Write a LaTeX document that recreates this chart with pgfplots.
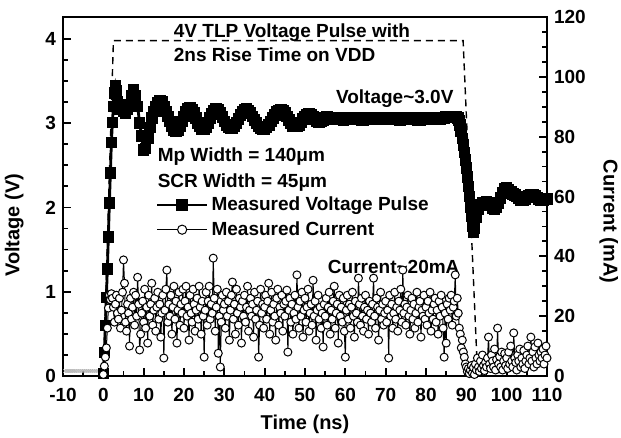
\documentclass[border=0pt]{standalone}
\usepackage{pgfplots}
\pgfplotsset{compat=1.18}
\usepackage{fontspec}
\setmainfont{Liberation Sans}
\begin{document}
\begin{tikzpicture}[font=\bfseries]
\pgfplotsset{
 common/.style={scale only axis, width=242pt, height=179.5pt, xmin=-10, xmax=110,
  tick align=inside, major tick length=4pt, minor tick length=2.5pt,
  every tick/.style={line width=0.9pt, black},
  /pgf/number format/assume math mode=true,
  tick label style={font=\fontsize{9.5}{11}\selectfont\bfseries},
  label style={font=\fontsize{10}{12}\selectfont\bfseries},
  axis line style={line width=1.3pt},
 },
 volt/.style={black, line width=1.4pt, mark=square*, mark size=2.2pt},
 curr/.style={black, line width=0.5pt, mark=*, mark size=2pt, mark options={fill=white, draw=black, line width=0.5pt}},
}
\begin{axis}[common, ymin=0, ymax=4.26, ytick={0,1,2,3,4}, minor y tick num=3,
  xtick={-10,0,...,110}, minor x tick num=1, xtick pos=bottom, ytick pos=left,
  x tick label style={yshift=-2.5pt},
  xlabel={Time (ns)}, ylabel={Voltage (V)},
  ylabel style={at={(ticklabel cs:0.42,4pt)}},
  legend style={draw=none, fill=none, at={(axis cs:12.9,2.17)}, anchor=north west, inner sep=0pt, row sep=1pt,
    font=\fontsize{9.5}{11}\selectfont\bfseries, nodes={inner sep=1.5pt}},
  legend cell align=left,
  legend image code/.code={\draw[mark repeat=2,mark phase=2] plot coordinates {(0pt,0pt)(12.5pt,0pt)(25pt,0pt)};},
]
\addplot[forget plot, black, line width=0.7pt, dash pattern=on 3.5pt off 2.5pt] coordinates {(0,0)(2.5,3.98)(89.2,3.98)(92.8,0)};
\addplot[forget plot, gray!60, only marks, mark=x, mark size=1.2pt, mark options={line width=0.3pt}] coordinates {
(-9.5,0.06)(-9,0.06)(-8.5,0.06)(-8,0.06)(-7.5,0.06)(-7,0.06)(-6.5,0.06)(-6,0.06)(-5.5,0.06)(-5,0.06)(-4.5,0.06)(-4,0.06)(-3.5,0.06)(-3,0.06)(-2.5,0.06)(-2,0.06)(-1.5,0.06)(-1,0.06)(-0.5,0.06)};
\addplot[volt] coordinates {
(0,0.03)(0.25,0.28)(0.5,0.6)(0.75,0.93)(1,1.27)(1.25,1.65)(1.5,2.05)(1.75,2.41)(2,2.77)(2.25,3.01)(2.5,3.2)(2.75,3.36)(3,3.44)(3.25,3.38)(3.5,3.25)(3.75,3.17)
(4,3.2)(4.5,3.22)(5,3.14)(5.5,3.12)(6,3.16)(6.5,3.2)(7,3.32)(7.5,3.4)(8,3.32)(8.5,3.2)(9,3.0)(9.5,2.85)(10,2.68)(10.5,2.7)(11,2.82)(11.5,2.95)
(12,3.06)(12.5,3.14)(13,3.2)(13.5,3.24)(14,3.26)(14.5,3.25)(15,3.2)(15.5,3.14)(16,3.08)(16.5,3.02)(17,2.96)(17.5,2.92)(18,2.9)(18.5,2.92)(19,2.96)(19.5,3.02)
(20,3.08)(20.5,3.13)(21,3.17)(21.5,3.18)(22,3.16)(22.5,3.12)(23,3.06)(23.5,3.0)(24,2.96)(24.5,2.93)(25,2.93)(25.5,2.95)(26,3.0)(26.5,3.06)(27,3.11)(27.5,3.15)
(28,3.17)(28.5,3.16)(29,3.12)(29.5,3.07)(30,3.02)(30.5,2.98)(31,2.95)(31.5,2.94)(32,2.94)(32.5,2.96)(33,3.0)(33.5,3.05)(34,3.1)(34.5,3.14)(35,3.16)(35.5,3.17)
(36,3.15)(36.5,3.12)(37,3.08)(37.5,3.04)(38,3.0)(38.5,2.96)(39,2.94)(39.5,2.93)(40,2.93)(40.5,2.95)(41,2.98)(41.5,3.02)(42,3.06)(42.5,3.1)(43,3.13)(43.5,3.15)
(44,3.16)(44.5,3.15)(45,3.12)(45.5,3.08)(46,3.04)(46.5,3.0)(47,2.97)(47.5,2.96)(48,2.96)(48.5,2.98)(49,3.01)(49.5,3.05)(50,3.08)(50.5,3.1)(51,3.11)(51.5,3.1)
(52,3.08)(52.5,3.05)(53,3.02)(53.5,3.01)(54,3.02)(54.5,3.04)(55,3.06)(55.5,3.07)(56,3.06)(56.5,3.05)(57,3.05)(57.5,3.06)(58,3.06)(58.5,3.05)(59,3.05)(59.5,3.04)
(60,3.05)(60.5,3.06)(61,3.06)(61.5,3.05)(62,3.05)(62.5,3.06)(63,3.06)(63.5,3.05)(64,3.04)(64.5,3.04)(65,3.05)(65.5,3.06)(66,3.06)(66.5,3.05)(67,3.05)(67.5,3.05)
(68,3.06)(68.5,3.06)(69,3.05)(69.5,3.05)(70,3.06)(70.5,3.06)(71,3.05)(71.5,3.05)(72,3.06)(72.5,3.06)(73,3.05)(73.5,3.04)(74,3.05)(74.5,3.06)(75,3.06)(75.5,3.05)
(76,3.05)(76.5,3.05)(77,3.06)(77.5,3.05)(78,3.04)(78.5,3.04)(79,3.05)(79.5,3.06)(80,3.06)(80.5,3.05)(81,3.05)(81.5,3.05)(82,3.06)(82.5,3.06)(83,3.05)(83.5,3.05)
(84,3.06)(84.5,3.06)(85,3.07)(85.5,3.07)(86,3.07)(86.5,3.08)(87,3.08)(87.5,3.07)(88,3.06)(88.25,3.03)(88.5,2.98)(88.75,2.9)(89,2.82)(89.25,2.74)(89.5,2.65)(89.75,2.56)
(90,2.47)(90.25,2.36)(90.5,2.25)(90.75,2.13)(91,2.0)(91.25,1.9)(91.5,1.78)(91.75,1.71)(92,1.75)(92.5,1.88)(93,1.98)(93.5,2.03)(94,2.05)(94.5,2.06)(95,2.07)(95.5,2.06)
(96,2.03)(96.5,1.99)(97,1.98)(97.5,2.0)(98,2.05)(98.5,2.11)(99,2.17)(99.5,2.22)(100,2.23)(100.5,2.21)(101,2.18)(101.5,2.16)(102,2.15)(102.5,2.13)(103,2.11)(103.5,2.09)
(104,2.09)(104.5,2.1)(105,2.12)(105.5,2.14)(106,2.15)(106.5,2.15)(107,2.14)(107.5,2.12)(108,2.1)(108.5,2.09)(109,2.09)(109.5,2.1)(110,2.1)};
\addlegendentry{Measured Voltage Pulse}
\addlegendimage{curr, mark size=2.3pt}
\addlegendentry{Measured Current}
\node[anchor=west, inner sep=0pt, font=\fontsize{9.5}{11}\selectfont\bfseries] at (axis cs:17.4,4.08) {4V TLP Voltage Pulse with};
\node[anchor=west, inner sep=0pt, font=\fontsize{9.5}{11}\selectfont\bfseries] at (axis cs:17.4,3.81) {2ns Rise Time on VDD};
\node[anchor=west, inner sep=0pt, font=\fontsize{9.5}{11}\selectfont\bfseries] at (axis cs:57.6,3.29) {Voltage\textasciitilde3.0V};
\node[anchor=west, inner sep=0pt, font=\fontsize{9.5}{11}\selectfont\bfseries] at (axis cs:13.4,2.6) {Mp Width = 140μm};
\node[anchor=west, inner sep=0pt, font=\fontsize{9.5}{11}\selectfont\bfseries] at (axis cs:13.4,2.3) {SCR Width = 45μm};
\node[anchor=west, inner sep=0pt, font=\fontsize{9.5}{11}\selectfont\bfseries] at (axis cs:55.6,1.29) {Current\textasciitilde20mA};
\end{axis}
\begin{axis}[common, ymin=0, ymax=120, ytick={0,20,...,120}, minor y tick num=3,
  axis y line*=right, axis x line=none, ylabel={Current (mA)},
  ylabel style={rotate=180, at={(ticklabel cs:0.43,0pt)}}]
\addplot[curr] coordinates {
(0,0.5)(0.25,3.3)(0.5,6.3)(0.75,9.4)(1,16)(1.25,22.7)(1.5,27)(1.75,25.5)(2,27.5)(2.25,26)(2.5,23)(2.75,18)(3,24)(3.25,27)(3.5,21)(3.75,19)(4,26)(4.25,16)(4.5,22)(4.75,28)
(5,38.8)(5.25,31)(5.5,18)(5.75,15)(6,24)(6.25,21)(6.5,10)(6.75,26)(7,19)(7.25,23)(7.5,28)(7.75,17)(8,27)(8.25,20)(8.5,33)(8.75,24)(9,8.7)(9.25,14)(9.5,21)(9.75,25)
(10,18)(10.25,29)(10.5,16)(10.75,23)(11,11)(11.25,27)(11.5,20)(11.75,24)(12,31)(12.25,17)(12.5,22)(12.75,26)(13,15)(13.25,23)(13.5,28)(13.75,19)(14,24)(14.25,13)(14.5,21)(14.75,27)
(15,6)(15.25,22)(15.5,29)(15.75,35.4)(16,18)(16.25,24)(16.5,20)(16.75,27)(17,14)(17.25,23)(17.5,30)(17.75,19)(18,25)(18.25,11)(18.5,22)(18.75,28)(19,17)(19.25,24)(19.5,21)(19.75,29)
(20,16)(20.25,25)(20.5,30)(20.75,20)(21,23)(21.25,12)(21.5,27)(21.75,21)(22,18)(22.25,29)(22.5,24)(22.75,15)(23,22)(23.25,26)(23.5,19)(23.75,30)(24,23)(24.25,14)(24.5,25)(24.75,20)
(25,6.3)(25.25,22)(25.5,28)(25.75,17)(26,25)(26.25,30)(26.5,19)(26.75,24)(27,21)(27.25,39.4)(27.5,26)(27.75,15)(28,23)(28.25,29)(28.5,7.6)(28.75,20)(29,3)(29.25,18)(29.5,27)(29.75,22)
(30,24)(30.25,16)(30.5,28)(30.75,20)(31,25)(31.25,12)(31.5,22)(31.75,27)(32,31.4)(32.25,19)(32.5,24)(32.75,14)(33,29)(33.25,21)(33.5,17)(33.75,26)(34,23)(34.25,11)(34.5,25)(34.75,20)
(35,27)(35.25,18)(35.5,23)(35.75,30)(36,15)(36.25,22)(36.5,26)(36.75,20)(37,24)(37.25,13)(37.5,28)(37.75,19)(38,22)(38.25,25)(38.5,6.3)(38.75,17)(39,29)(39.25,21)(39.5,24)(39.75,16)
(40,23)(40.25,27)(40.5,19)(40.75,25)(41,31)(41.25,14)(41.5,22)(41.75,28)(42,18)(42.25,24)(42.5,20)(42.75,12)(43,26)(43.25,29)(43.5,17)(43.75,23)(44,21)(44.25,27)(44.5,15)(44.75,24)
(45,20)(45.25,25)(45.5,28.7)(45.75,8)(46,22)(46.25,26)(46.5,18)(46.75,24)(47,14)(47.25,21)(47.5,27)(47.75,19)(48,33.8)(48.25,23)(48.5,16)(48.75,25)(49,20)(49.25,28)(49.5,13)(49.75,22)
(50,26)(50.25,18)(50.5,23)(50.75,29)(51,15)(51.25,21)(51.5,24)(51.75,17)(52,32)(52.25,20)(52.5,25)(52.75,12)(53,22)(53.25,27)(53.5,19)(53.75,23)(54,16)(54.25,21)(54.5,9.7)(54.75,24)
(55,20)(55.25,26)(55.5,17)(55.75,23)(56,28)(56.25,14)(56.5,22)(56.75,19)(57,25)(57.25,30)(57.5,16)(57.75,21)(58,24)(58.25,11)(58.5,27)(58.75,20)(59,23)(59.25,18)(59.5,26)(59.75,15)
(60,6.3)(60.25,22)(60.5,27)(60.75,19)(61,24)(61.25,16)(61.5,23)(61.75,28)(62,20)(62.25,13)(62.5,25)(62.75,21)(63,18)(63.25,32.7)(63.5,24)(63.75,17)(64,26)(64.25,20)(64.5,15)(64.75,23)
(65,27)(65.25,19)(65.5,22)(65.75,14)(66,25)(66.25,21)(66.5,18)(66.75,24)(67,32.7)(67.25,20)(67.5,16)(67.75,26)(68,23)(68.25,12)(68.5,22)(68.75,28)(69,19)(69.25,24)(69.5,17)(69.75,21)
(70,25)(70.25,18)(70.5,22)(70.75,6)(71,27)(71.25,20)(71.5,24)(71.75,16)(72,21)(72.25,28)(72.5,19)(72.75,23)(73,15)(73.25,25)(73.5,22)(73.75,29)(74,18)(74.25,35.4)(74.5,21)(74.75,24)
(75,17)(75.25,23)(75.5,27)(75.75,20)(76,14)(76.25,22)(76.5,26)(76.75,19)(77,24)(77.25,16)(77.5,21)(77.75,28)(78,18)(78.25,23)(78.5,25)(78.75,13)(79,22)(79.25,20)(79.5,27)(79.75,19)
(80,23)(80.25,17)(80.5,25)(80.75,21)(81,28)(81.25,15)(81.5,22)(81.75,19)(82,24)(82.25,26)(82.5,18)(82.75,22)(83,14)(83.25,25)(83.5,20)(83.75,27)(84,23)(84.25,16)(84.5,6.3)(84.75,21)
(85,11)(85.25,24)(85.5,19)(85.75,26)(86,22)(86.25,27)(86.5,17)(86.75,23)(87,25)(87.25,33.8)(87.5,20)(87.75,26)(88,21)(88.25,16)(88.5,14)(88.75,9.4)(89,12)(89.25,8)(89.5,6.3)(89.75,4)
(90,3)(90.25,1.5)(90.5,2.5)(90.75,0.8)(91,2)(91.25,3.5)(91.5,1)(91.75,2.8)(92,0.5)(92.25,4)(92.5,2)(92.75,6)(93,3)(93.25,1.5)(93.5,5)(93.75,2.5)(94,7)(94.25,3.5)(94.5,1.8)(94.75,4.5)
(95,3)(95.25,6)(95.5,13)(95.75,4)(96,2.5)(96.25,7)(96.5,5)(96.75,3)(97,9)(97.25,2)(97.5,5.5)(97.75,16)(98,4)(98.25,6.5)(98.5,3)(98.75,8)(99,2)(99.25,5)(99.5,7.5)(99.75,3.5)
(100,6)(100.25,2.5)(100.5,8)(100.75,4)(101,10)(101.25,5)(101.5,3)(101.75,14.4)(102,6)(102.25,4.5)(102.5,2)(102.75,7)(103,5)(103.25,9)(103.5,3)(103.75,6)(104,4)(104.25,8.5)(104.5,2.5)(104.75,5)
(105,7)(105.25,10)(105.5,4)(105.75,6)(106,13)(106.25,5)(106.5,8)(106.75,3)(107,9.7)(107.25,6)(107.5,4)(107.75,11)(108,7)(108.25,5)(108.5,8)(108.75,6)(109,9)(109.25,4)(109.5,7)(109.75,10)(110,6)};
\end{axis}
\pgfresetboundingbox
\useasboundingbox (-31.5pt,-31pt) rectangle (279pt,188pt);
\end{tikzpicture}
\end{document}
